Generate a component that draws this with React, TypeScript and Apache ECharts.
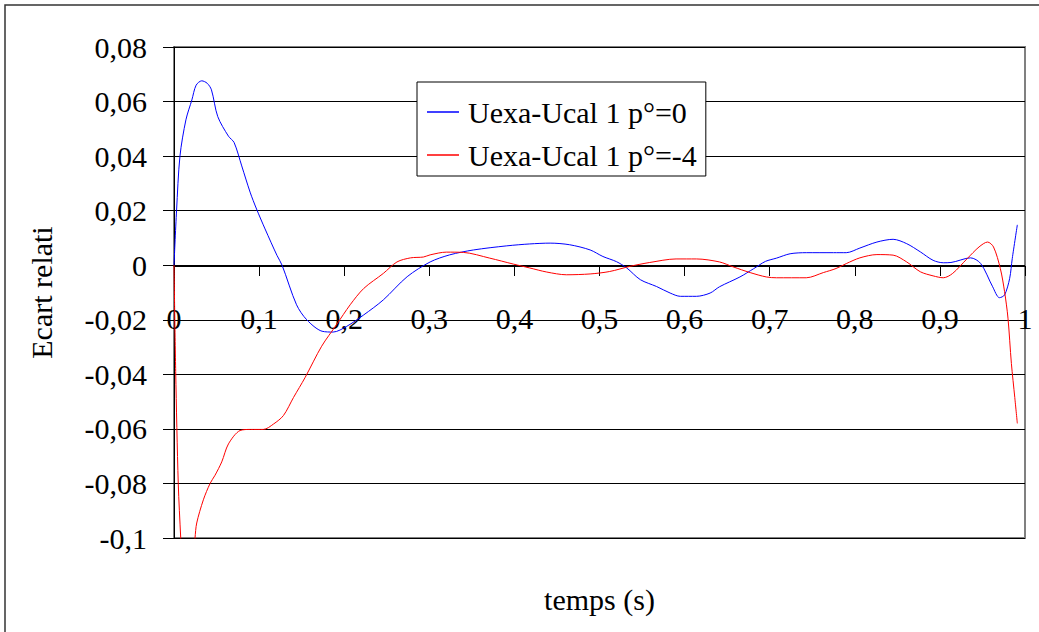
import React, { useEffect, useRef } from "react";
import * as echarts from "echarts";

const seriesNames = ["Uexa-Ucal 1 p°=0", "Uexa-Ucal 1 p°=-4"];

const tBlue = [
  0, 0.003, 0.007, 0.014, 0.021, 0.026, 0.0326, 0.039, 0.044, 0.0514, 0.064, 0.0706, 0.0796, 0.0894, 0.097,
  0.107, 0.121, 0.127, 0.144, 0.156, 0.174, 0.187, 0.203, 0.223, 0.246, 0.274, 0.301, 0.324, 0.352, 0.391,
  0.418, 0.442, 0.465, 0.489, 0.504, 0.52, 0.532, 0.548, 0.567, 0.583, 0.595, 0.614, 0.63, 0.641, 0.665,
  0.681, 0.695, 0.708, 0.724, 0.743, 0.775, 0.79, 0.806, 0.826, 0.845, 0.861, 0.877, 0.892, 0.904, 0.913,
  0.936, 0.948, 0.962, 0.97, 0.976, 0.982, 0.985, 0.991,
];
const vBlue = [
  0, 0.02, 0.04, 0.0533, 0.0606, 0.066, 0.0676, 0.0667, 0.0643, 0.0545, 0.0473, 0.045, 0.0364, 0.0268, 0.0206,
  0.0133, 0.0036, 0, -0.0145, -0.02, -0.0242, -0.0245, -0.0224, -0.0182, -0.0127, -0.0042, 0.0012, 0.0038, 0.0056, 0.0071,
  0.0078, 0.0081, 0.0075, 0.0056, 0.0032, 0.0013, -0.001, -0.0053, -0.0078, -0.0102, -0.0114, -0.0114, -0.0102, -0.0079, -0.0043,
  -0.0013, 0.0014, 0.0026, 0.0042, 0.0046, 0.0046, 0.0046, 0.0063, 0.0085, 0.0095, 0.0079, 0.0049, 0.0018, 0.0009, 0.001,
  0.0027, 0.0006, -0.0079, -0.0119, -0.0109, -0.0048, 0.0024, 0.0148,
];

const tRed = [
  0, 0.002, 0.005, 0.0079, 0.012, 0.018, 0.0247, 0.0267, 0.0345, 0.0424, 0.0482, 0.0561, 0.064, 0.0776, 0.09,
  0.105, 0.117, 0.1286, 0.1404, 0.154, 0.1735, 0.191, 0.207, 0.223, 0.246, 0.262, 0.278, 0.293, 0.301, 0.32,
  0.34, 0.371, 0.399, 0.418, 0.438, 0.461, 0.489, 0.512, 0.536, 0.559, 0.59, 0.614, 0.641, 0.657, 0.677,
  0.696, 0.708, 0.743, 0.763, 0.778, 0.79, 0.806, 0.826, 0.845, 0.861, 0.877, 0.892, 0.904, 0.915, 0.932,
  0.946, 0.956, 0.963, 0.971, 0.976, 0.98, 0.984, 0.988, 0.991,
];
const vRed = [
  0, -0.039, -0.08, -0.1, -0.125, -0.125, -0.1, -0.0945, -0.086, -0.08, -0.077, -0.0721, -0.0655, -0.0606, -0.0602,
  -0.0602, -0.0582, -0.0551, -0.0485, -0.0412, -0.0297, -0.0218, -0.0145, -0.0085, -0.003, 0.0012, 0.0027, 0.003, 0.0038, 0.0048,
  0.0047, 0.0026, 0.0004, -0.001, -0.0025, -0.0035, -0.0032, -0.0023, -0.0004, 0.001, 0.0023, 0.0023, 0.0012, -0.0006, -0.0027,
  -0.0043, -0.0046, -0.0046, -0.0027, -0.0012, 0.0006, 0.0027, 0.0039, 0.0037, 0.0012, -0.0024, -0.0039, -0.0046, -0.003, 0.0024,
  0.0067, 0.0085, 0.0067, -0.0012, -0.0097, -0.0194, -0.036, -0.0485, -0.058,
];

const FONT = "'Times New Roman', 'Liberation Serif', serif";

const zip = (t: number[], v: number[]) => t.map((x, i) => [x, v[i]]);
const fmt = (v: number, d: number) => {
  const p = Math.pow(10, d);
  const r = Math.round(v * p) / p;
  return String(r === 0 ? 0 : r).replace(".", ",");
};

export default function App() {
  const ref = useRef<HTMLDivElement>(null);
  useEffect(() => {
    document.body.style.margin = "0";
    const chart = echarts.init(ref.current!, undefined, { renderer: "svg" });
    chart.setOption({
      animation: false,
      backgroundColor: "#ffffff",
      grid: {
        left: 174,
        top: 47,
        right: 14,
        bottom: 94,
        containLabel: false,
        outerBoundsMode: "none",
        show: true,
        borderColor: "#808080",
        borderWidth: 2,
        backgroundColor: "transparent",
      },
      legend: {
        orient: "vertical",
        left: 417,
        top: 82,
        padding: [15, 9, 6, 10],
        icon: "rect",
        itemWidth: 32,
        itemHeight: 1.5,
        itemGap: 13,
        borderColor: "#000",
        borderWidth: 1,
        backgroundColor: "#fff",
        textStyle: { fontFamily: FONT, fontSize: 30, color: "#000", lineHeight: 30, padding: [0, 0, 0, 4] },
        data: seriesNames,
      },
      xAxis: {
        type: "value",
        min: 0,
        max: 1,
        interval: 0.1,
        position: "bottom",
        offset: -272,
        name: "temps (s)",
        nameLocation: "middle",
        nameGap: 318,
        nameMoveOverlap: false,
        nameTextStyle: { fontFamily: FONT, fontSize: 30, color: "#000" },
        axisLine: { show: true, onZero: false, lineStyle: { color: "#000", width: 1 } },
        axisTick: { show: true, length: 10, lineStyle: { color: "#000" } },
        axisLabel: {
          fontFamily: FONT,
          fontSize: 30,
          color: "#000",
          margin: 37,
          formatter: (v: number) => fmt(v, 1),
        },
        splitLine: { show: false },
      },
      yAxis: {
        type: "value",
        min: -0.1,
        max: 0.08,
        interval: 0.02,
        name: "Ecart relati",
        nameLocation: "middle",
        nameGap: 118,
        nameRotate: 90,
        nameTextStyle: { fontFamily: FONT, fontSize: 30, color: "#000" },
        axisLine: { show: true, onZero: false, lineStyle: { color: "#000", width: 1 } },
        axisTick: { show: true, length: 11, lineStyle: { color: "#000" } },
        axisLabel: {
          fontFamily: FONT,
          fontSize: 30,
          color: "#000",
          margin: 27,
          formatter: (v: number) => fmt(v, 2),
        },
        splitLine: { show: true, lineStyle: { color: "#000", width: 1 } },
      },
      graphic: [
        {
          type: "rect",
          shape: { x: 5, y: 5, width: 1200, height: 800 },
          style: { fill: "none", stroke: "#333", lineWidth: 1.5 },
          silent: true,
          z: -1,
        },
      ],
      series: [
        {
          name: seriesNames[0],
          type: "line",
          data: zip(tBlue, vBlue),
          symbol: "none",
          smooth: 0.3,
          clip: true,
          lineStyle: { color: "#0000ff", width: 1 },
          itemStyle: { color: "#0000ff" },
        },
        {
          name: seriesNames[1],
          type: "line",
          data: zip(tRed, vRed),
          symbol: "none",
          smooth: 0.3,
          clip: true,
          lineStyle: { color: "#ff0000", width: 1 },
          itemStyle: { color: "#ff0000" },
        },
      ],
    });
    return () => chart.dispose();
  }, []);
  return <div ref={ref} style={{ width: 1039, height: 632 }} />;
}
